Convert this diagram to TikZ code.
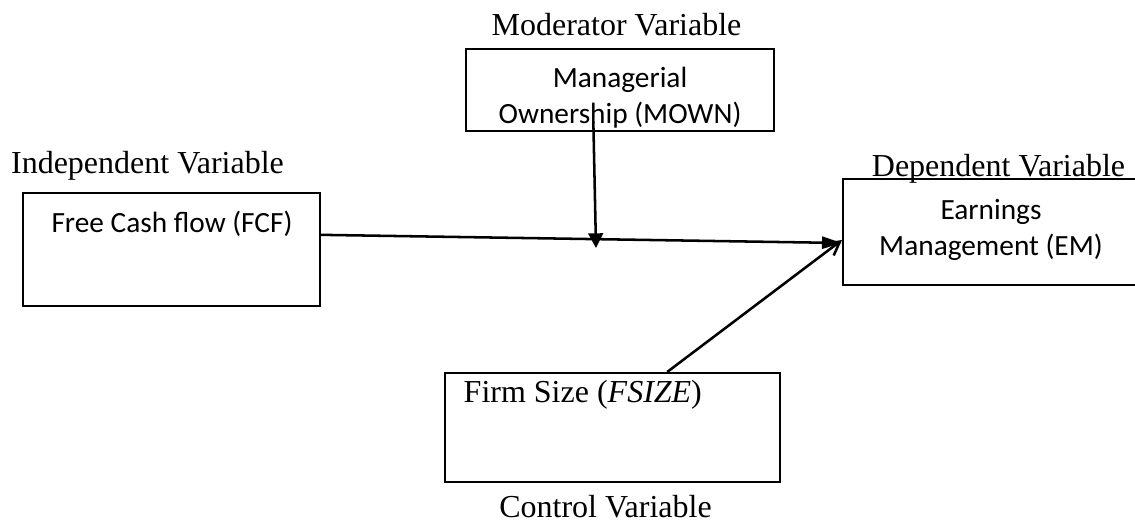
\documentclass[tikz,border=0pt]{standalone}
\usepackage{fontspec}
\setmainfont{Liberation Serif}
\newfontfamily\carlito{Carlito}
\usetikzlibrary{arrows.meta}
\begin{document}
\begin{tikzpicture}[x=0.75pt,y=-0.75pt,
  box/.style={draw,line width=1.5pt,inner sep=0pt},
  vartitle/.style={font=\fontsize{24}{28}\selectfont,anchor=base},
  boxtext/.style={font=\carlito\fontsize{22}{27}\selectfont,anchor=base,align=center},
  arr/.style={line width=1.9pt}]
\useasboundingbox (0,0) rectangle (1135,525);
% boxes
\node[box,minimum width=222.75pt,minimum height=84.75pt] (fcf) at (171.5,249.5) {};
\node[box,minimum width=231pt,minimum height=61.5pt] (mown) at (620,90) {};
\node[box,minimum width=222.75pt,minimum height=79.5pt] (em) at (991.5,232) {};
\node[box,minimum width=251.25pt,minimum height=81.75pt] (fsize) at (612.5,427.5) {};
% texts in the boxes (base = last line)
\node[boxtext] (fcftext) at (172,232) {Free Cash flow (FCF)};
\node[boxtext] (mowntext) at (620,123) {Managerial\\Ownership (MOWN)};
\node[boxtext] (emtext) at (991,255) {Earnings\\Management (EM)};
\node[vartitle,anchor=base west] (fsizetext) at (459,402) {Firm Size (\textit{FSIZE})};
% titles
\node[vartitle] (modtitle) at (616.5,35) {Moderator Variable};
\node[vartitle] (indtitle) at (147.5,173) {Independent Variable};
\node[vartitle] (deptitle) at (998.5,176) {Dependent Variable};
\node[vartitle] (ctrltitle) at (605.5,517) {Control Variable};
% arrows
\coordinate (joint) at (596,248);
\draw[arr,-{Triangle[length=15pt,width=9pt]}] ([yshift=11pt]fcf.east) -- ([yshift=-8.25pt]em.west);
\draw[arr,-{Triangle[length=11pt,width=11pt]}] ([xshift=-20pt,yshift=8pt]mown.south) -- (joint);
\draw[arr,-{Straight Barb[length=10pt,width=11pt]}] ([xshift=41pt]fsize.north) -- ([yshift=-6pt]em.west);
\end{tikzpicture}
\end{document}
